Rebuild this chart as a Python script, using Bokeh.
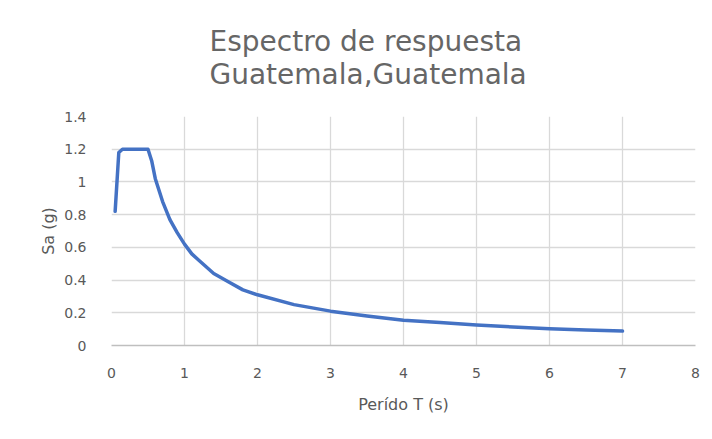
from bokeh.plotting import figure
from bokeh.models import Range1d, FixedTicker, CustomJSTickFormatter, Title
from bokeh.embed import file_html
from bokeh.resources import INLINE

# Period T (s) and spectral acceleration Sa (g)
periodo = [0.05, 0.10, 0.15, 0.50, 0.55, 0.60, 0.70, 0.80, 0.90, 1.00, 1.10, 1.20,
           1.40, 1.60, 1.80, 2.00, 2.50, 3.00, 3.50, 4.00, 4.50, 5.00, 5.50,
           6.00, 6.50, 7.00]
sa = [0.82, 1.18, 1.20, 1.20, 1.13, 1.02, 0.88, 0.77, 0.69, 0.62, 0.56, 0.52,
      0.44, 0.39, 0.34, 0.31, 0.25, 0.21, 0.18, 0.155, 0.14, 0.125, 0.113,
      0.103, 0.095, 0.088]
x_ticks = [0, 1, 2, 3, 4, 5, 6, 7, 8]
y_ticks = [0, 0.2, 0.4, 0.6, 0.8, 1.0, 1.2, 1.4]
title_text = "Espectro de respuesta\nGuatemala,Guatemala"

FONT = "DejaVu Sans"
GREY = "#595959"

p = figure(width=712, height=439, output_backend="svg", toolbar_location=None,
           x_range=Range1d(0, 8), y_range=Range1d(0, 1.4),
           min_border_left=111, min_border_right=17, min_border_top=116,
           min_border_bottom=94)
p.title = Title(text=title_text, align="left", text_font=FONT,
                text_font_size="28px", text_font_style="normal", text_color="#666666",
                text_line_height=1.0, standoff=48, offset=98, vertical_align="top")

p.outline_line_color = None
p.background_fill_color = "white"
p.border_fill_color = "white"

p.line(periodo, sa, line_color="#4472C4", line_width=3.5, line_join="round", line_cap="round")

p.xaxis.ticker = FixedTicker(ticks=x_ticks)
p.yaxis.ticker = FixedTicker(ticks=y_ticks)
p.yaxis.formatter = CustomJSTickFormatter(code="return Number(tick.toFixed(1)).toString();")
p.xgrid.ticker = FixedTicker(ticks=x_ticks)
p.ygrid.ticker = FixedTicker(ticks=y_ticks)
p.grid.grid_line_color = "#d9d9d9"
p.grid.grid_line_width = 1.3

for ax in (p.xaxis, p.yaxis):
    ax.major_tick_line_color = None
    ax.minor_tick_line_color = None
    ax.major_label_text_font = FONT
    ax.major_label_text_font_size = "14px"
    ax.major_label_text_color = GREY
    ax.axis_label_text_font = FONT
    ax.axis_label_text_font_size = "16px"
    ax.axis_label_text_font_style = "normal"
    ax.axis_label_text_color = GREY
p.yaxis.axis_line_color = None
p.xaxis.axis_line_color = "#bfbfbf"
p.xaxis.axis_line_width = 1.5
p.xaxis.axis_label = "Perído T (s)"
p.yaxis.axis_label = "Sa (g)"
p.xaxis.major_label_standoff = 16
p.yaxis.major_label_standoff = 19
p.xaxis.axis_label_standoff = 14
p.yaxis.axis_label_standoff = 3

open("out.html", "w").write(file_html(p, INLINE))
